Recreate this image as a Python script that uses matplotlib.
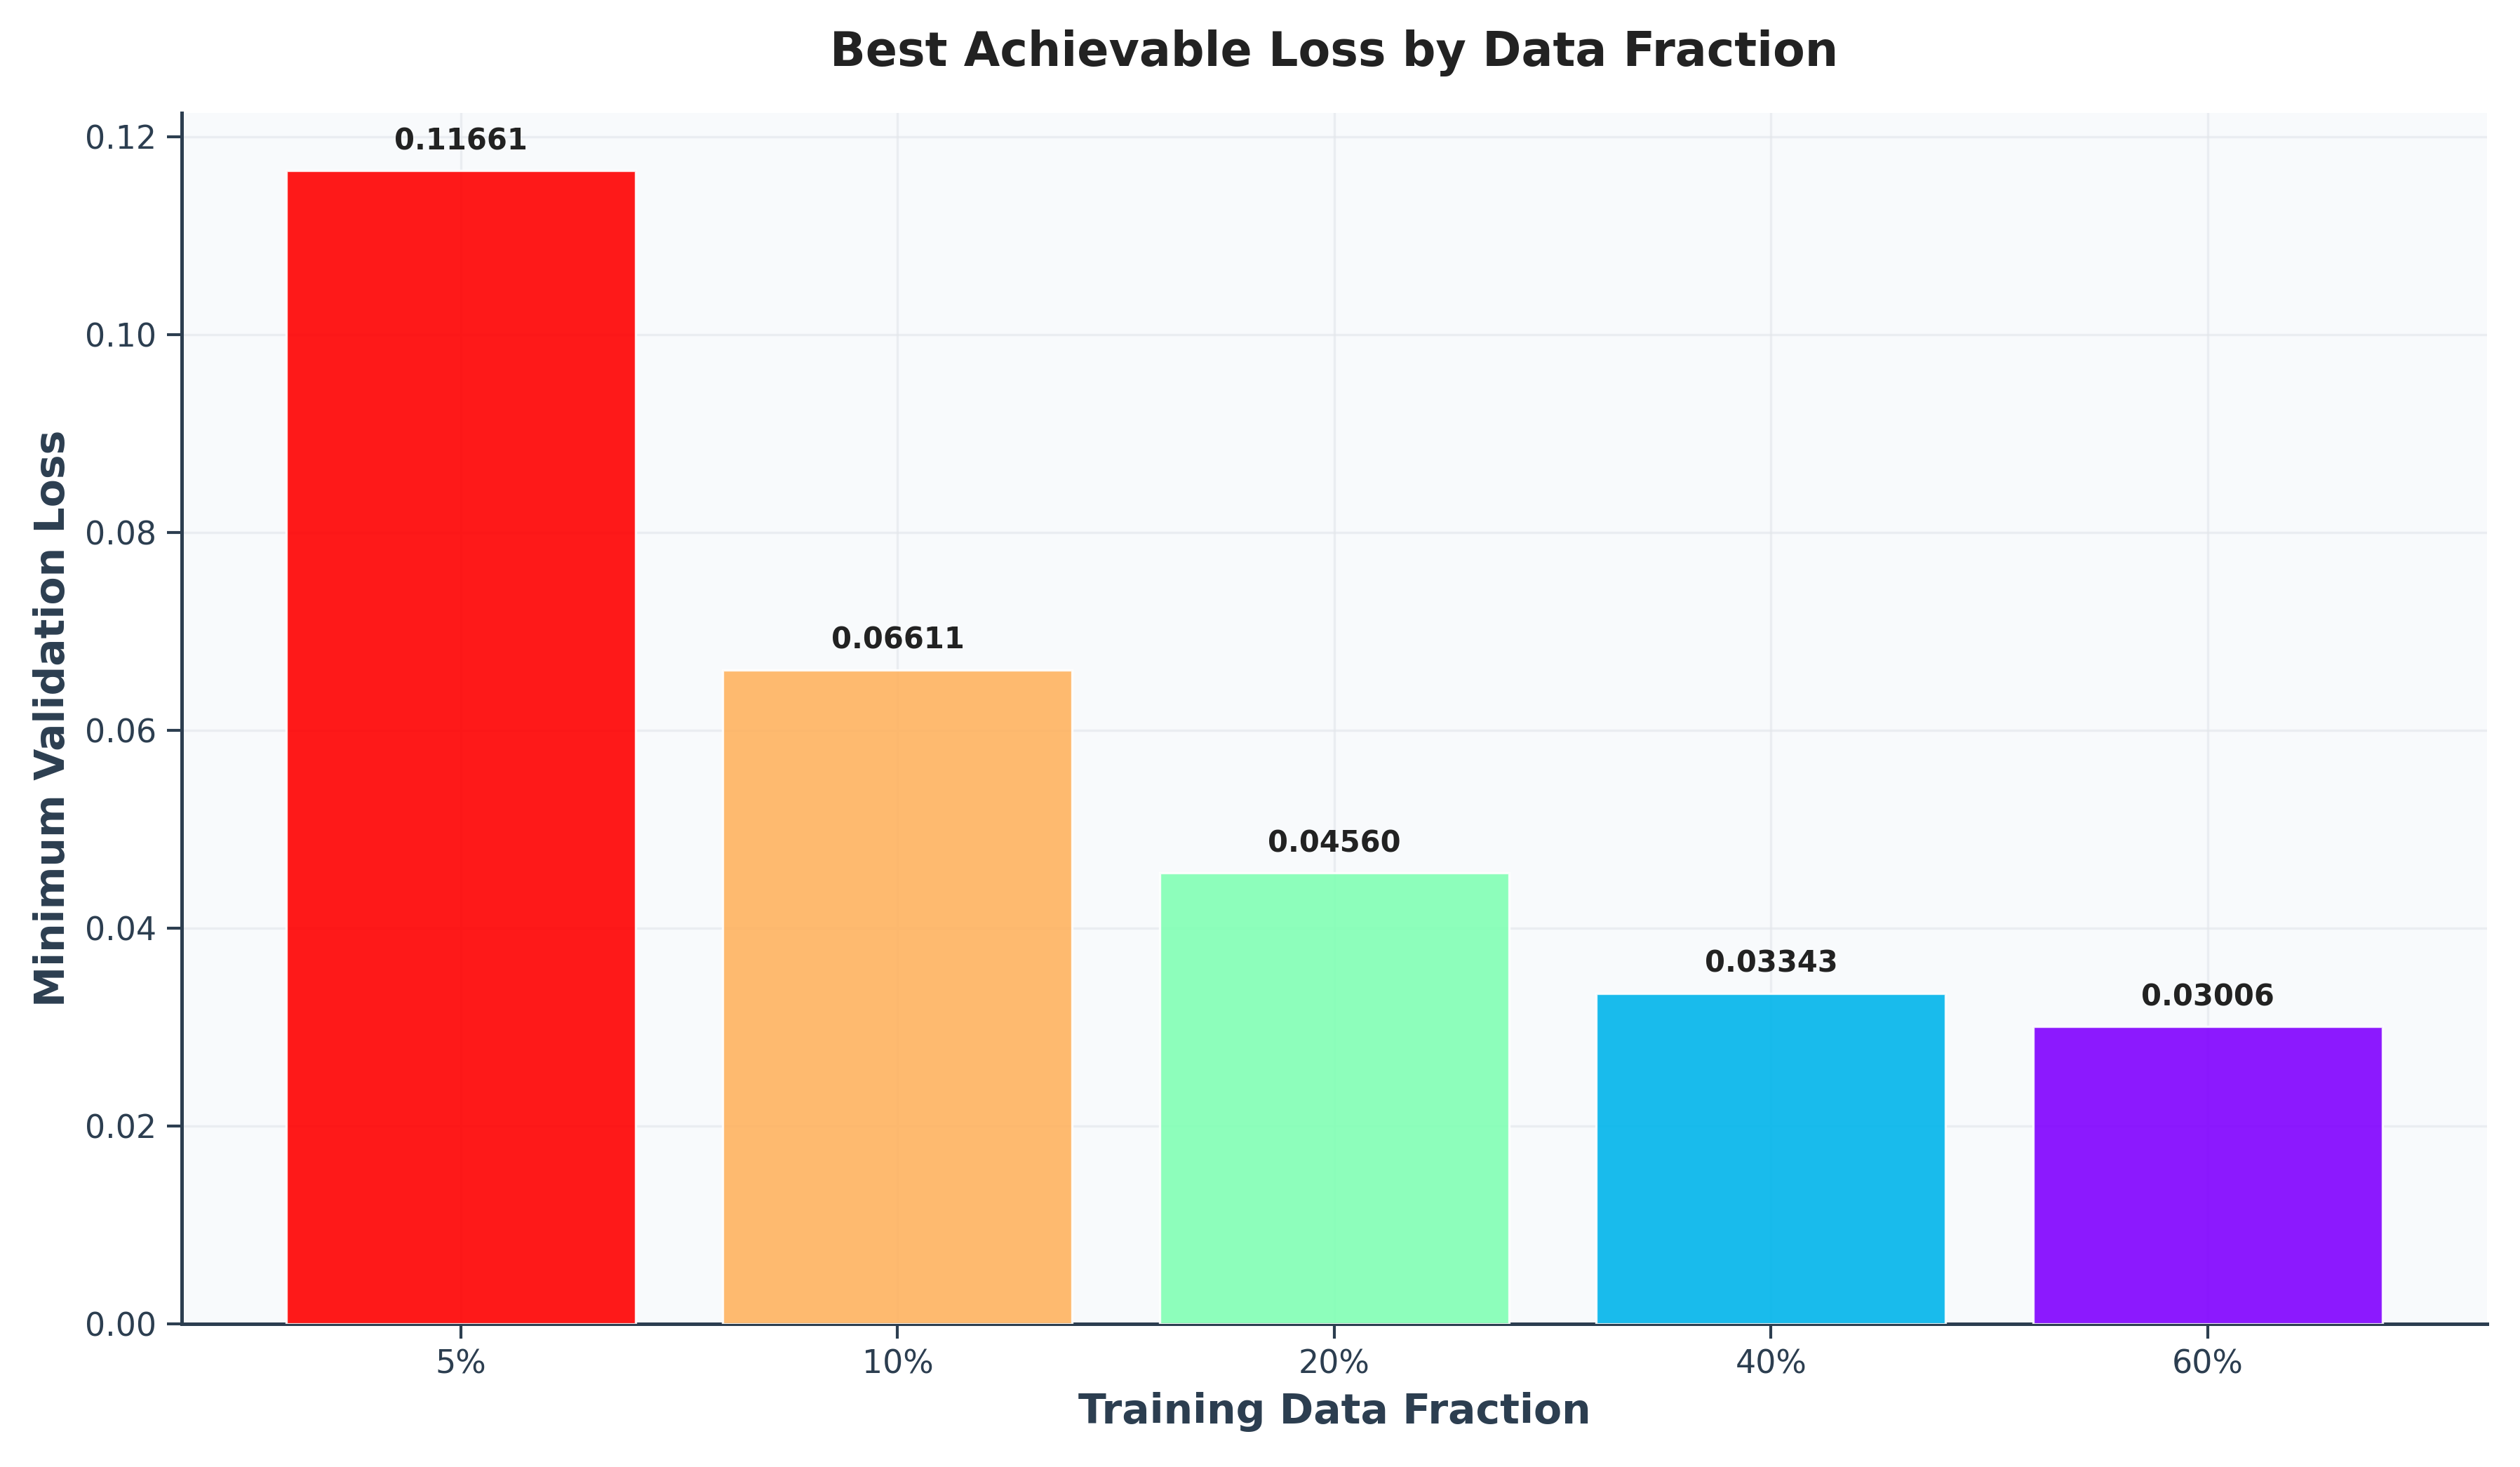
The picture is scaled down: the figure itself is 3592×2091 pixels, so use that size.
import numpy as np
import matplotlib
matplotlib.use("Agg")
import matplotlib.pyplot as plt

categories = ["5%", "10%", "20%", "40%", "60%"]
min_val_loss = [0.11661, 0.06611, 0.04560, 0.03343, 0.03006]

dark = "#2c3e50"
fig = plt.figure(figsize=(3592/300, 2091/300), dpi=300)
ax = fig.add_axes([0.072, 0.0975, 0.915, 0.8255])
ax.set_facecolor("#f8fafc")

colors = plt.cm.rainbow(np.linspace(1, 0, len(categories)))
x = np.arange(len(categories))
bars = ax.bar(x, min_val_loss, width=0.8, color=colors, alpha=0.9,
              edgecolor="white", linewidth=0.8, zorder=3)

ymax = max(min_val_loss)
for xi, v in zip(x, min_val_loss):
    ax.text(xi, v + 0.0015, f"{v:.5f}", ha="center", va="bottom",
            fontsize=10, fontweight="bold", color="#222222", zorder=4)

ax.set_ylim(0, ymax * 1.05)
ax.set_xticks(x)
ax.set_xticklabels(categories)
ax.grid(True, color="#e2e5ea", alpha=0.6, linewidth=0.8, zorder=0)
ax.set_axisbelow(True)

for s in ["top", "right"]:
    ax.spines[s].set_visible(False)
for s in ["left", "bottom"]:
    ax.spines[s].set_color(dark)
    ax.spines[s].set_linewidth(1.2)
ax.tick_params(colors=dark, labelsize=11, width=1.0, length=5)

ax.set_xlabel("Training Data Fraction", fontsize=14, fontweight="bold", color=dark)
ax.set_ylabel("Minimum Validation Loss", fontsize=14, fontweight="bold", color=dark)
ax.set_title("Best Achievable Loss by Data Fraction", fontsize=16, fontweight="bold",
             color="#222222", pad=16)

fig.savefig("out.png", dpi=300)
